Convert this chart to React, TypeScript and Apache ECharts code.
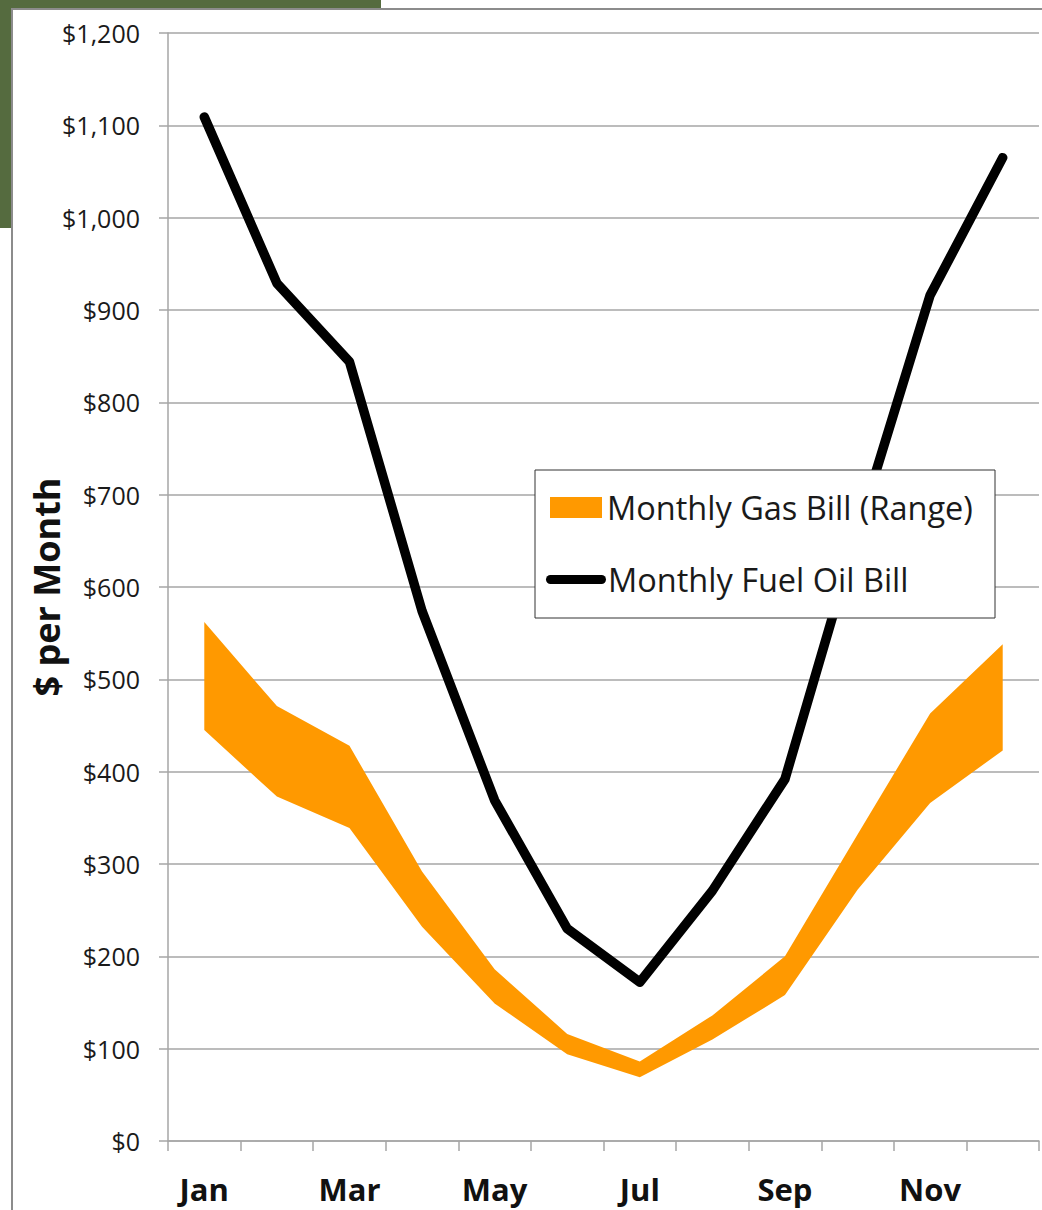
import React, { useEffect, useRef } from "react";
import * as echarts from "echarts";

const months = ["Jan", "Feb", "Mar", "Apr", "May", "Jun", "Jul", "Aug", "Sep", "Oct", "Nov", "Dec"];
const fuelOil = [1109, 929, 844, 574, 369, 230, 172, 271, 392, 660, 916, 1065];
const gasLow = [445, 373, 339, 232, 149, 94, 69, 110, 158, 272, 366, 423];
const gasHigh = [562, 471, 428, 292, 186, 116, 86, 136, 200, 332, 463, 538];

const GAS_NAME = "Monthly Gas Bill (Range)";
const OIL_NAME = "Monthly Fuel Oil Bill";
const FONT = "'Open Sans', Lato, sans-serif";

export default function App() {
  const ref = useRef<HTMLDivElement>(null);
  useEffect(() => {
    if (!ref.current) return;
    const chart = echarts.init(ref.current, undefined, { renderer: "svg" });
    const gasBand = gasHigh.map((h, i) => h - gasLow[i]);
    chart.setOption({
      animation: false,
      backgroundColor: "transparent",
      textStyle: { fontFamily: FONT },
      grid: { left: 168, top: 33, right: 3, bottom: 69, containLabel: false },
      graphic: [
        {
          type: "rect",
          shape: { x: 535, y: 470, width: 460, height: 148 },
          style: { fill: "#fff", stroke: "#333", lineWidth: 1 },
          z: 50,
        },
      ],
      legend: [
        {
          left: 550,
          top: 491,
          padding: 0,
          itemWidth: 52,
          itemHeight: 21,
          itemGap: 0,
          data: [{ name: GAS_NAME, icon: "rect", itemStyle: { color: "#FF9900" } }],
          textStyle: { fontSize: 32.5, color: "#1a1a1a", fontFamily: FONT },
          z: 60,
        },
        {
          left: 546,
          top: 563,
          padding: 0,
          itemWidth: 60,
          itemHeight: 9,
          data: [
            {
              name: OIL_NAME,
              icon: "path://M4.5,0 H55.5 A4.5,4.5 0 0 1 55.5,9 H4.5 A4.5,4.5 0 0 1 4.5,0 Z",
              itemStyle: { color: "#000" },
            },
          ],
          textStyle: { fontSize: 32.5, color: "#1a1a1a", fontFamily: FONT, padding: [0, 0, 0, -3] },
          z: 60,
        },
      ],
      xAxis: {
        type: "category",
        data: months,
        boundaryGap: true,
        axisLine: { show: true, lineStyle: { color: "#A6A6A6", width: 1.5 } },
        axisTick: { show: true, interval: 0, length: 10, lineStyle: { color: "#A6A6A6", width: 1.5 } },
        axisLabel: {
          interval: 1,
          margin: 32,
          fontSize: 31,
          fontWeight: "bold",
          color: "#111",
          fontFamily: FONT,
        },
        splitLine: { show: false },
      },
      yAxis: {
        type: "value",
        min: 0,
        max: 1200,
        interval: 100,
        name: "$ per Month",
        nameLocation: "middle",
        nameGap: 104,
        nameMoveOverlap: false,
        nameTextStyle: { fontSize: 36, fontWeight: "bold", color: "#111", fontFamily: FONT },
        axisLine: { show: true, lineStyle: { color: "#A6A6A6", width: 1.5 } },
        axisTick: { show: true, length: 9, lineStyle: { color: "#A6A6A6", width: 1.5 } },
        axisLabel: {
          margin: 28,
          fontSize: 25,
          color: "#1a1a1a",
          fontFamily: FONT,
          formatter: (v: number) => "$" + v.toLocaleString("en-US"),
        },
        splitLine: { show: true, lineStyle: { color: "#A6A6A6", width: 1.5 } },
      },
      series: [
        {
          name: "gasLow",
          type: "line",
          stack: "gas",
          data: gasLow,
          symbol: "none",
          lineStyle: { width: 0, opacity: 0 },
          silent: true,
        },
        {
          name: GAS_NAME,
          type: "line",
          stack: "gas",
          data: gasBand,
          symbol: "none",
          color: "#FF9900",
          itemStyle: { color: "#FF9900" },
          lineStyle: { width: 0, opacity: 0 },
          areaStyle: { color: "#FF9900", opacity: 1 },
        },
        {
          name: OIL_NAME,
          type: "line",
          data: fuelOil,
          symbol: "none",
          color: "#000",
          lineStyle: { color: "#000", width: 9.5, cap: "round", join: "round" },
          z: 5,
        },
      ],
    });
    return () => chart.dispose();
  }, []);

  return (
    <div style={{ position: "fixed", left: 0, top: 0, width: 1042, height: 1210, background: "#fff", overflow: "hidden" }}>
      <div style={{ position: "absolute", left: 0, top: 0, width: 381, height: 228, background: "#556B3F" }} />
      <div
        style={{
          position: "absolute",
          left: 11,
          top: 8,
          width: 1100,
          height: 1300,
          background: "#fff",
          borderLeft: "2px solid #8C8C8C",
          borderTop: "2px solid #8C8C8C",
        }}
      />
      <div ref={ref} style={{ position: "absolute", left: 0, top: 0, width: 1042, height: 1210 }} />
    </div>
  );
}
